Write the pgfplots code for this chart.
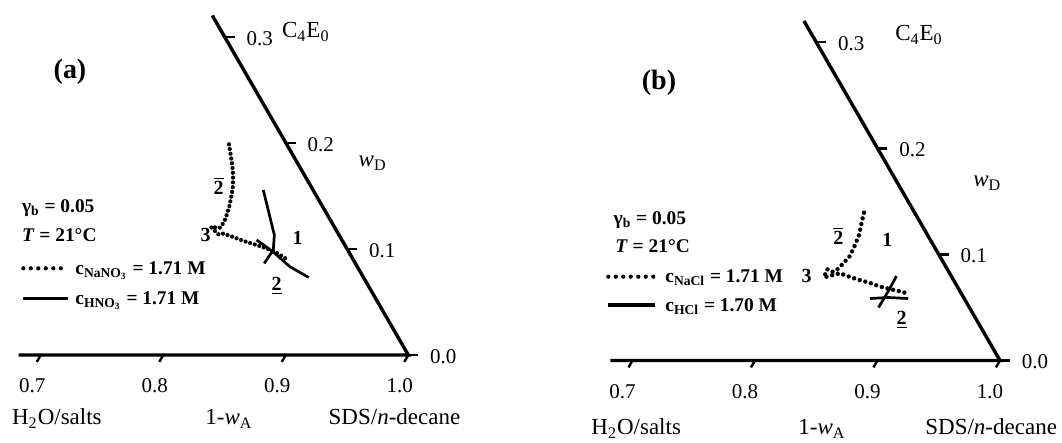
\documentclass[border=0pt]{standalone}
\usepackage{fontspec}
\setmainfont{Liberation Serif}
\usepackage{pgfplots}
\pgfplotsset{compat=1.18}

% font sizes
\newcommand\ticksize{\fontsize{10.5}{12}\selectfont}
\newcommand\titlesize{\fontsize{11.5}{13}\selectfont}
\newcommand\legsize{\fontsize{9.7}{11}\selectfont\bfseries}
\newcommand\regsize{\fontsize{10}{12}\selectfont\bfseries}
\newcommand\panelsize{\fontsize{14}{16}\selectfont\bfseries}

\tikzset{
  tri/.style={line width=1.7pt, line join=miter},
  tck/.style={line width=1.2pt},
  dotsA/.style={line width=2.1pt, line cap=round, dash pattern=on 0pt off 2.4pt},
  dotsB/.style={line width=2.2pt, line cap=round, dash pattern=on 0pt off 2.9pt},
  legdots/.style={line width=2.1pt, line cap=round, dash pattern=on 0pt off 3.75pt},
  solidc/.style={line width=1.35pt, line join=round},
}

% Partial Gibbs triangle: horizontal position = (1-w_A) + w_D/2, vertical = w_D
\pgfplotsset{gibbs/.style={hide axis, clip=false, scale only axis,
    width=306.25pt, height=265.25pt,
    xmin=0.6, xmax=1.1, ymin=-0.1, ymax=0.4, anchor=south west}}

\begin{document}
\begin{tikzpicture}[x=0.5pt,y=-0.5pt]
\useasboundingbox (0,0) rectangle (1062,443);

%---------------- panel (a): NaNO3 / HNO3 ----------------
\begin{axis}[gibbs, at={(-40.85pt,-230.55pt)}]
  \draw[tri] (axis cs:0.682,0) -- (axis cs:1,0) -- (axis cs:0.84,0.32);
  \draw[tck] (axis cs:0.7,0) -- ++(-2pt,-3.46pt);
  \draw[tck] (axis cs:0.8,0) -- ++(-2pt,-3.46pt);
  \draw[tck] (axis cs:0.9,0) -- ++(-2pt,-3.46pt);
  \draw[tck] (axis cs:1.0,0) -- ++(-2pt,-3.46pt);
  \draw[tck] (axis cs:1.0,0) -- ++(5pt,0pt);
  \draw[tck] (axis cs:0.95,0.1) -- ++(5pt,0pt);
  \draw[tck] (axis cs:0.9,0.2) -- ++(5pt,0pt);
  \draw[tck] (axis cs:0.85,0.3) -- ++(5pt,0pt);

  % c(NaNO3) = 1.71 M
  \addplot[black, dotsA] table[x expr=\thisrow{b}+0.5*\thisrow{d}, y=d] {
b d
0.7543 0.1986
0.7592 0.1910
0.7644 0.1828
0.7695 0.1744
0.7740 0.1659
0.7781 0.1571
0.7809 0.1492
0.7835 0.1414
0.7854 0.1336
0.7870 0.1256
0.7863 0.1200
0.7786 0.1206
0.7880 0.1138
0.7904 0.1147
0.7982 0.1124
0.8066 0.1093
0.8158 0.1062
0.8244 0.1037
0.8333 0.1006
0.8425 0.0974
0.8482 0.0943
0.8530 0.0917
0.8573 0.0895
  };
  % c(HNO3) = 1.71 M
  \addplot[black, solidc] table[x expr=\thisrow{b}+0.5*\thisrow{d}, y=d] {
b d
0.8039 0.1555
0.8341 0.1131
0.8403 0.0990
0.8392 0.0864
  };
  \addplot[black, solidc] table[x expr=\thisrow{b}+0.5*\thisrow{d}, y=d] {
b d
0.8220 0.1084
0.8412 0.0971
0.8618 0.0832
0.8823 0.0730
  };
\end{axis}

%---------------- panel (b): NaCl / HCl ----------------
\begin{axis}[gibbs, at={(255pt,-233.3pt)}]
  \draw[tri] (axis cs:0.682,0) -- (axis cs:1,0) -- (axis cs:0.84,0.32);
  \draw[tck] (axis cs:0.7,0) -- ++(-2pt,-3.46pt);
  \draw[tck] (axis cs:0.8,0) -- ++(-2pt,-3.46pt);
  \draw[tck] (axis cs:0.9,0) -- ++(-2pt,-3.46pt);
  \draw[tck] (axis cs:1.0,0) -- ++(-2pt,-3.46pt);
  \draw[tck] (axis cs:1.0,0) -- ++(5pt,0pt);
  \draw[tck] (axis cs:0.95,0.1) -- ++(5pt,0pt);
  \draw[tck] (axis cs:0.9,0.2) -- ++(5pt,0pt);
  \draw[tck] (axis cs:0.85,0.3) -- ++(5pt,0pt);

  % c(NaCl) = 1.71 M
  \addplot[black, dotsB] table[x expr=\thisrow{b}+0.5*\thisrow{d}, y=d] {
b d
0.8193 0.1393
0.8221 0.1299
0.8258 0.1183
0.8266 0.1129
0.8278 0.1048
0.8281 0.0978
0.8258 0.0900
0.8238 0.0846
0.8209 0.0834
0.8160 0.0860
0.8171 0.0784
0.8283 0.0822
0.8375 0.0790
0.8472 0.0759
0.8567 0.0733
0.8656 0.0702
0.8773 0.0671
0.8874 0.0648
0.8922 0.0633
  };
  % c(HCl) = 1.70 M
  \addplot[black, solidc] table[x expr=\thisrow{b}+0.5*\thisrow{d}, y=d] {
b d
0.8757 0.0796
0.8761 0.0674
0.8761 0.0584
0.8758 0.0500
  };
  \addplot[black, solidc] table[x expr=\thisrow{b}+0.5*\thisrow{d}, y=d] {
b d
0.8647 0.0584
0.8789 0.0594
0.8959 0.0584
  };
\end{axis}

%---------------- labels, panel (a) ----------------
\begin{scope}[every node/.style={inner sep=0pt}]
\node[font=\panelsize] at (70,71.7) {(a)};
\node[font=\ticksize] at (32.3,385.5) {0.7};
\node[font=\ticksize] at (154.8,385.5) {0.8};
\node[font=\ticksize] at (277.3,385.5) {0.9};
\node[font=\ticksize] at (399.8,385.5) {1.0};
\node[font=\ticksize, anchor=west] at (429.8,356.5) {0.0};
\node[font=\ticksize, anchor=west] at (368.6,250.4) {0.1};
\node[font=\ticksize, anchor=west] at (307.3,144.3) {0.2};
\node[font=\ticksize, anchor=west] at (246.1,38.2) {0.3};
\node[font=\titlesize, anchor=base west] at (281.7,38) {C\textsubscript{4}E\textsubscript{0}};
\node[font=\titlesize, anchor=base west] at (358.3,166.7) {\textit{w}\textsubscript{D}};
\node[font=\titlesize, anchor=base west] at (11.7,425) {H\textsubscript{2}O/salts};
\node[font=\titlesize, anchor=base west] at (205,425) {1-\textit{w}\textsubscript{A}};
\node[font=\titlesize, anchor=base west] at (328.3,425) {SDS/\textit{n}-decane};

\node[font=\legsize, anchor=base west] at (21.7,213) {γ\textsubscript{b} = 0.05};
\node[font=\legsize, anchor=base west] at (21.7,241.3) {\textit{T} = 21°C};
\draw[legdots] (23.3,268.3) -- (68.3,268.3);
\node[font=\legsize, anchor=base west] at (75,274.5) {c\textsubscript{NaNO\textsubscript{3}} = 1.71 M};
\draw[line width=1.6pt] (23.3,298.3) -- (68.3,298.3);
\node[font=\legsize, anchor=base west] at (75,304.5) {c\textsubscript{HNO\textsubscript{3}} = 1.71 M};

\node[font=\regsize] at (297.7,238.3) {1};
\node[font=\regsize] at (276.7,286) {\underline{2}};
\node[font=\regsize] at (218.5,186) {$\overline{\mbox{\regsize 2}}$};
\node[font=\regsize] at (205.7,235) {3};

%---------------- labels, panel (b) ----------------
\node[font=\panelsize] at (659,82.5) {(b)};
\node[font=\ticksize] at (622.5,391.5) {0.7};
\node[font=\ticksize] at (745,391.5) {0.8};
\node[font=\ticksize] at (867.5,391.5) {0.9};
\node[font=\ticksize] at (990,391.5) {1.0};
\node[font=\ticksize, anchor=west] at (1021.5,362) {0.0};
\node[font=\ticksize, anchor=west] at (960.3,255.9) {0.1};
\node[font=\ticksize, anchor=west] at (899,149.8) {0.2};
\node[font=\ticksize, anchor=west] at (837.8,43.7) {0.3};
\node[font=\titlesize, anchor=base west] at (894.9,40.5) {C\textsubscript{4}E\textsubscript{0}};
\node[font=\titlesize, anchor=base west] at (973,186.7) {\textit{w}\textsubscript{D}};
\node[font=\titlesize, anchor=base west] at (591,435) {H\textsubscript{2}O/salts};
\node[font=\titlesize, anchor=base west] at (798,435) {1-\textit{w}\textsubscript{A}};
\node[font=\titlesize, anchor=base west] at (925,435) {SDS/\textit{n}-decane};

\node[font=\legsize, anchor=base west] at (613.3,224.6) {γ\textsubscript{b} = 0.05};
\node[font=\legsize, anchor=base west] at (615,253) {\textit{T} = 21°C};
\draw[legdots] (608.3,276.7) -- (655,276.7);
\node[font=\legsize, anchor=base west] at (665,283) {c\textsubscript{NaCl} = 1.71 M};
\draw[line width=1.6pt] (608.3,305) -- (655,305);
\node[font=\legsize, anchor=base west] at (665,311.3) {c\textsubscript{HCl} = 1.70 M};

\node[font=\regsize] at (887.3,240) {1};
\node[font=\regsize] at (901.7,320) {\underline{2}};
\node[font=\regsize] at (838.3,236) {$\overline{\mbox{\regsize 2}}$};
\node[font=\regsize] at (806.7,276) {3};
\end{scope}
\end{tikzpicture}
\end{document}
